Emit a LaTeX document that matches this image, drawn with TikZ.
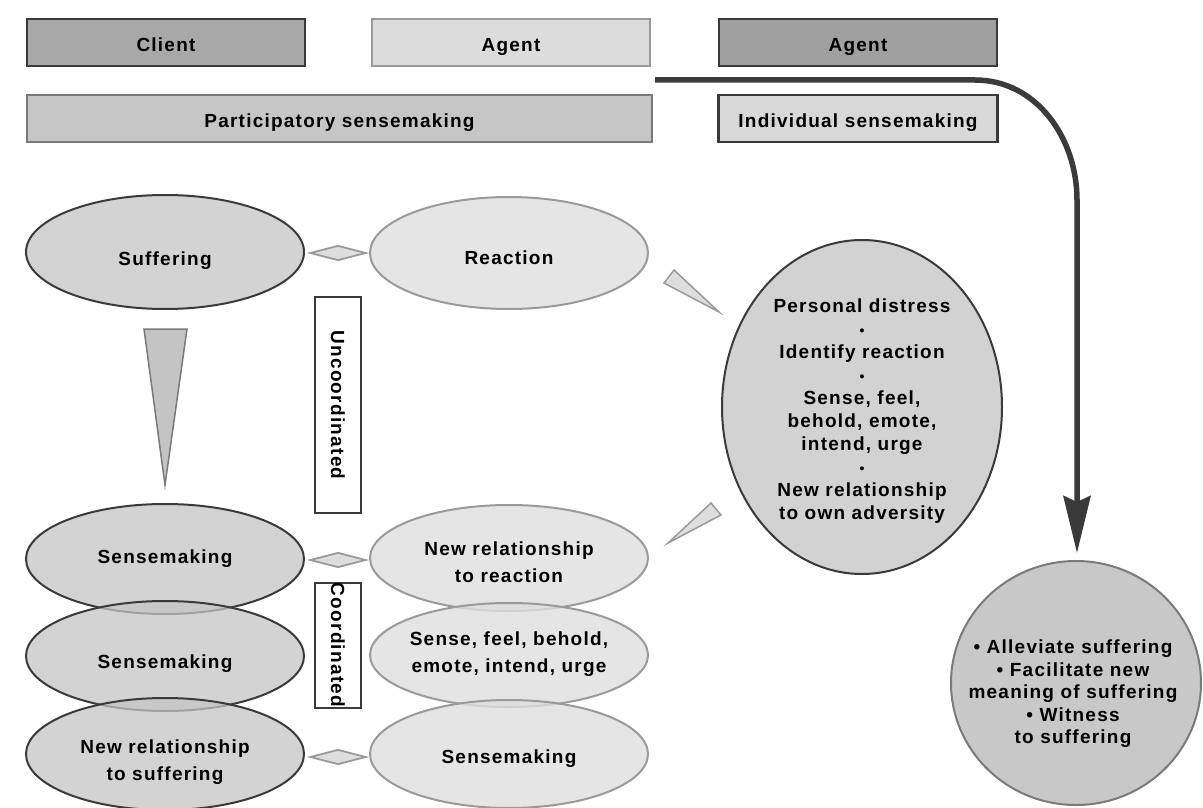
\documentclass[tikz,border=0pt]{standalone}
\usepackage{fontspec}
\setmainfont{Liberation Sans}[LetterSpace=6.5]
\usetikzlibrary{shapes.geometric,arrows.meta}
\definecolor{dk}{HTML}{3A3A3A}
\definecolor{edgegray}{HTML}{9A9A9A}
\definecolor{midedge}{HTML}{7A7A7A}
\definecolor{clientfill}{HTML}{A8A8A8}
\definecolor{agentlfill}{HTML}{DCDCDC}
\definecolor{agentdfill}{HTML}{A0A0A0}
\definecolor{partfill}{HTML}{C6C6C6}
\definecolor{indfill}{HTML}{D8D8D8}
\definecolor{cellfill}{HTML}{C4C4C4}
\definecolor{agcellfill}{HTML}{DEDEDE}
\definecolor{bigfill}{HTML}{D2D2D2}
\definecolor{circfill}{HTML}{C8C8C8}
\newcommand\sepdot{{\fontsize{14}{23}\selectfont •}}
\begin{document}
\begin{tikzpicture}[x=1pt,y=-1pt,
  font=\fontsize{19}{23}\selectfont\bfseries,
  hdrbox/.style={draw, line width=2.2pt, minimum width=278pt, minimum height=47pt, inner sep=0pt, text height=18pt, text depth=0pt},
  clientcell/.style={ellipse, draw=dk, line width=2pt, fill=cellfill, fill opacity=0.75, minimum width=278pt, inner sep=0pt},
  agentcell/.style={ellipse, draw=edgegray, line width=2pt, fill=agcellfill, fill opacity=0.8, minimum width=278pt, inner sep=0pt},
  txt/.style={align=center, inner sep=0pt, text opacity=1},
  oneline/.style={txt, text height=18pt, text depth=0pt},
  twoline/.style={txt, font=\fontsize{19}{27.5}\selectfont\bfseries},
  link/.style={diamond, draw=edgegray, fill=agcellfill, line width=1.8pt, minimum width=56pt, minimum height=15pt, inner sep=0pt},
  labbox/.style={draw=dk, line width=2pt, fill=white, minimum height=46pt, inner sep=0pt, rotate=-90, text height=15.8pt, text depth=2.2pt},
  wedge/.style={draw=edgegray, fill=agcellfill, line width=1.5pt, line join=miter},
  bigarrow/.style={draw=dk, line width=5.5pt, -{Stealth[length=57pt,width=27pt,inset=6pt]}}
]
\useasboundingbox (0,0) rectangle (1203,808);

% header boxes
\node[hdrbox, draw=dk, fill=clientfill] (client) at (166,42.5) {Client};
\node[hdrbox, draw=edgegray, fill=agentlfill] (agentA) at (511,42.5) {Agent};
\node[hdrbox, draw=dk, fill=agentdfill] (agentB) at (858,42.5) {Agent};
\node[hdrbox, draw=midedge, fill=partfill, minimum width=625pt] (part) at (339.5,118.5) {Participatory sensemaking};
\node[hdrbox, draw=dk, fill=indfill, minimum width=279pt] (indiv) at (858,118.5) {Individual sensemaking};

% client column
\node[clientcell, minimum height=114pt] (suf) at (165,252) {};
\node[oneline] (sufT) at (165,256) {Suffering};
\node[clientcell, minimum height=110pt] (sm1) at (165,559) {};
\node[clientcell, minimum height=110pt] (sm2) at (165,656) {};
\node[clientcell, minimum height=112pt] (nrs) at (165,754) {};
\node[oneline] (sm1T) at (165,554) {Sensemaking};
\node[oneline] (sm2T) at (165,659) {Sensemaking};
\node[twoline] (nrsT) at (165,762) {New relationship\\to suffering};

% agent column
\node[agentcell, minimum height=112pt] (rea) at (509,253) {};
\node[oneline] (reaT) at (509,255) {Reaction};
\node[agentcell, minimum height=106pt] (nrr) at (509,558) {};
\node[agentcell, minimum height=104pt] (sfb) at (509,655) {};
\node[agentcell, minimum height=108pt] (sma) at (509,754) {};
\node[twoline] (nrrT) at (509,562) {New relationship\\to reaction};
\node[twoline] (sfbT) at (509,654) {Sense, feel, behold,\\emote, intend, urge};
\node[oneline] (smaT) at (509,754) {Sensemaking};

% links
\node[link] (d1) at (338,253) {};
\node[link] (d2) at (338,560) {};
\node[link] (d3) at (338,757) {};

% labels
\node[labbox, minimum width=216pt] (unco) at (338,405) {Uncoordinated};
\node[labbox, minimum width=125pt] (coord) at (338,645) {Coordinated};

% triangle
\fill[wedge, fill=cellfill, draw=midedge] (144,329) -- (187,329) -- (165,485) -- cycle;

% individual sensemaking ellipse
\node[ellipse, draw=dk, line width=2pt, fill=bigfill, minimum width=280pt, minimum height=334pt, inner sep=0pt] (big) at (862,407) {};
\node[txt] (bigT) at (862,411) {Personal distress\\\sepdot\\Identify reaction\\\sepdot\\Sense, feel,\\behold, emote,\\intend, urge\\\sepdot\\New relationship\\to own adversity};

% wedges
\fill[wedge] (664,283) -- (674,270) -- (719,312) -- cycle;
\fill[wedge] (711,503) -- (721,515) -- (668,543) -- cycle;

% outcome circle
\node[ellipse, draw=midedge, line width=2pt, fill=circfill, minimum width=250pt, minimum height=244pt, inner sep=0pt] (out) at (1076,683) {};
\node[txt, font=\fontsize{19}{22.5}\selectfont\bfseries] (outT) at (1073,694) {• Alleviate suffering\\• Facilitate new\\meaning of suffering\\• Witness\\to suffering};

% big arrow
\coordinate (astart) at (655,80);
\coordinate (bend) at (1077,200);
\draw[bigarrow, shorten >=7pt] (astart) -- (975,80) to[out=0,in=90] (bend) -- (bend |- out.north);
\end{tikzpicture}
\end{document}
